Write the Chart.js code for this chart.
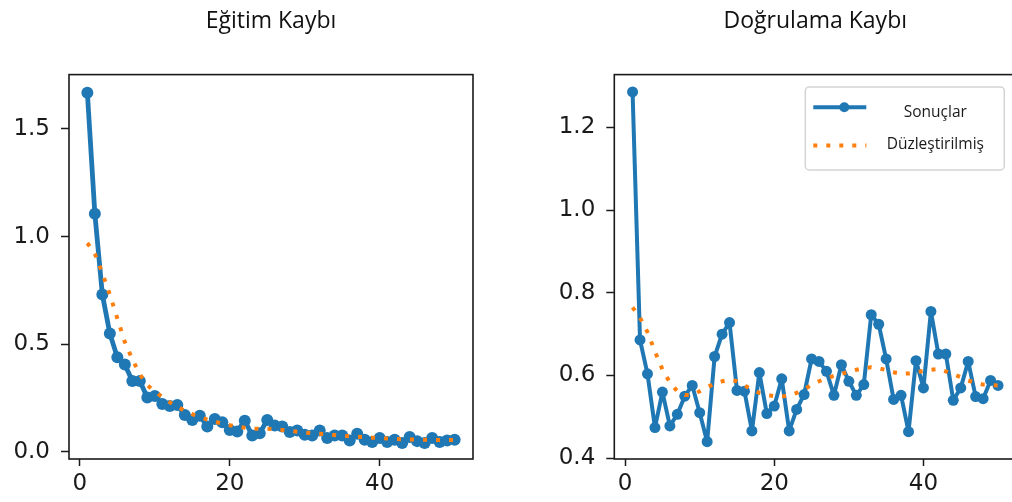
<!DOCTYPE html>
<html><head><meta charset="utf-8">
<script src="https://cdn.jsdelivr.net/npm/chart.js@4.4.1/dist/chart.umd.min.js"></script>
<style>
html,body{margin:0;padding:0;background:#fff;overflow:hidden;width:1012px;height:502px;position:relative}
#c1{position:absolute;left:0;top:0}
#c2{position:absolute;left:520px;top:0}
</style></head><body>
<canvas id="c1" width="500" height="502"></canvas>
<canvas id="c2" width="520" height="502"></canvas>
<script>
const epochs = [1,2,3,4,5,6,7,8,9,10,11,12,13,14,15,16,17,18,19,20,21,22,23,24,25,26,27,28,29,30,31,32,33,34,35,36,37,38,39,40,41,42,43,44,45,46,47,48,49,50];
const trainLoss = [1.668,1.106,0.731,0.550,0.439,0.406,0.329,0.329,0.253,0.260,0.222,0.213,0.218,0.171,0.148,0.168,0.118,0.153,0.138,0.102,0.095,0.145,0.076,0.087,0.148,0.122,0.118,0.092,0.099,0.080,0.076,0.099,0.064,0.076,0.076,0.053,0.084,0.056,0.046,0.064,0.046,0.056,0.041,0.069,0.050,0.041,0.064,0.046,0.053,0.056];
const trainSmooth = [0.97,0.92,0.83,0.73,0.62,0.51,0.43,0.36,0.31,0.28,0.255,0.23,0.21,0.19,0.175,0.162,0.15,0.14,0.132,0.124,0.117,0.112,0.108,0.107,0.107,0.106,0.102,0.098,0.094,0.09,0.087,0.084,0.081,0.078,0.075,0.072,0.07,0.068,0.066,0.064,0.062,0.06,0.059,0.058,0.057,0.056,0.056,0.055,0.055,0.055];
const valLoss = [1.286,0.686,0.604,0.474,0.560,0.478,0.506,0.550,0.576,0.510,0.440,0.646,0.700,0.728,0.564,0.562,0.466,0.607,0.508,0.526,0.592,0.466,0.518,0.554,0.640,0.634,0.610,0.552,0.626,0.586,0.552,0.578,0.747,0.724,0.640,0.542,0.552,0.464,0.636,0.570,0.755,0.652,0.652,0.540,0.570,0.634,0.549,0.544,0.588,0.576];
const valSmooth = [0.765,0.740,0.705,0.658,0.615,0.583,0.562,0.553,0.553,0.562,0.572,0.580,0.586,0.590,0.586,0.576,0.566,0.558,0.553,0.550,0.549,0.551,0.558,0.567,0.577,0.586,0.594,0.599,0.604,0.609,0.614,0.618,0.620,0.618,0.613,0.608,0.604,0.605,0.608,0.611,0.614,0.616,0.610,0.603,0.596,0.588,0.582,0.578,0.577,0.576];
const trainYTicks = [0, 0.5, 1.0, 1.5];
const valYTicks = [0.4, 0.6, 0.8, 1.0, 1.2];
const xTicks = [0, 20, 40];
const titles = ['Eğitim Kaybı', 'Doğrulama Kaybı'];
const seriesLabels = ['Sonuçlar', 'Düzleştirilmiş'];

const BLUE = '#1f77b4', ORANGE = '#ff7f0e';
const tickFont = {family: 'DejaVu Sans', size: 23};
const titleFont = {family: 'Open Sans', size: 23, weight: 'normal'};

const framePlugin = {
  id: 'frame',
  afterDraw(chart) {
    const a = chart.chartArea, ctx = chart.ctx;
    ctx.save();
    ctx.strokeStyle = '#1a1a1a';
    ctx.lineWidth = 1.6;
    ctx.strokeRect(a.left, a.top, a.right - a.left, a.bottom - a.top);
    ctx.restore();
  }
};

const legendPlugin = {
  id: 'customLegend',
  afterDraw(chart) {
    const a = chart.chartArea, ctx = chart.ctx;
    const w = 199, h = 83;
    const bx = a.right - 12 - w, by = a.top + 12.3;
    ctx.save();
    ctx.beginPath();
    ctx.roundRect(bx, by, w, h, 4);
    ctx.fillStyle = 'rgba(255,255,255,0.85)';
    ctx.fill();
    ctx.strokeStyle = '#d4d4d4';
    ctx.lineWidth = 1.5;
    ctx.stroke();
    const ds = chart.data.datasets;
    const lineY = [by + 20.3, by + 58.5];
    const textY = [by + 30.5, by + 62.5];
    ds.forEach((d, i) => {
      const y = lineY[i];
      ctx.save();
      ctx.strokeStyle = d.borderColor;
      ctx.lineWidth = d.borderWidth;
      ctx.setLineDash(d.borderDash || []);
      ctx.lineCap = 'butt';
      ctx.beginPath();
      ctx.moveTo(bx + 8, y);
      ctx.lineTo(bx + 61, y);
      ctx.stroke();
      ctx.restore();
      if (d.pointRadius > 0) {
        ctx.beginPath();
        ctx.arc(bx + 39, y, 5, 0, Math.PI * 2);
        ctx.fillStyle = d.backgroundColor;
        ctx.fill();
      }
      ctx.fillStyle = '#1a1a1a';
      ctx.font = '15.5px "Open Sans"';
      ctx.textAlign = 'center';
      ctx.textBaseline = 'alphabetic';
      ctx.fillText(d.label, bx + 130, textY[i]);
    });
    ctx.restore();
  }
};

function makeChart(id, title, loss, smooth, yTicks, yMin, yMax, yAxisWidth, rightPad, lw, pr, withLegend) {
  const ctx = document.getElementById(id);
  return new Chart(ctx, {
    type: 'line',
    data: {
      datasets: [
        {
          label: seriesLabels[0],
          data: epochs.map((e, i) => ({x: e, y: loss[i]})),
          borderColor: BLUE, backgroundColor: BLUE,
          borderWidth: lw, pointRadius: pr, pointHoverRadius: pr,
          pointBorderWidth: 0, tension: 0, order: 2,
          borderJoinStyle: 'round', borderCapStyle: 'round'
        },
        {
          label: seriesLabels[1],
          data: epochs.map((e, i) => ({x: e, y: smooth[i]})),
          borderColor: ORANGE, backgroundColor: ORANGE,
          borderWidth: 4, borderDash: [4, 9], borderCapStyle: 'butt',
          borderJoinStyle: 'round',
          pointRadius: 0, tension: 0, order: 1
        }
      ]
    },
    options: {
      responsive: false, animation: false,
      layout: {padding: {left: 0, right: rightPad, top: 0, bottom: 0}},
      plugins: {
        legend: {display: false},
        tooltip: {enabled: false},
        title: {
          display: true, text: title, fullSize: false,
          color: '#111', font: titleFont,
          padding: {top: 8, bottom: 39}
        }
      },
      scales: {
        x: {
          type: 'linear', min: -1.45, max: 52.45,
          afterBuildTicks(s) { s.ticks = xTicks.map(v => ({value: v})); },
          afterFit(s) { s.height = 43; },
          border: {display: false},
          grid: {drawOnChartArea: false, drawTicks: true, tickLength: 7, tickColor: '#1a1a1a', tickWidth: 1.5},
          ticks: {color: '#1a1a1a', font: tickFont, padding: 4, maxRotation: 0, callback: v => String(v)}
        },
        y: {
          type: 'linear', min: yMin, max: yMax,
          afterBuildTicks(s) { s.ticks = yTicks.map(v => ({value: v})); },
          afterFit(s) { s.width = yAxisWidth; },
          border: {display: false},
          grid: {drawOnChartArea: false, drawTicks: true, tickLength: 8, tickColor: '#1a1a1a', tickWidth: 1.5},
          ticks: {color: '#1a1a1a', font: tickFont, padding: 11, callback: v => Number(v).toFixed(1)}
        }
      }
    },
    plugins: withLegend ? [framePlugin, legendPlugin] : [framePlugin]
  });
}

makeChart('c1', titles[0], trainLoss, trainSmooth, trainYTicks, -0.033, 1.752, 69, 27, 4.8, 6, false);
makeChart('c2', titles[1], valLoss, valSmooth, valYTicks, 0.398, 1.328, 94.3, 23.7, 4, 5.5, true);
</script>
</body></html>
